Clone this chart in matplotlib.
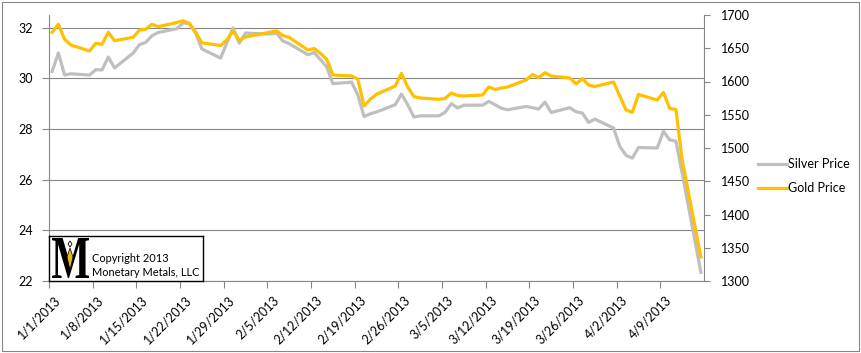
import datetime as dt
import matplotlib
matplotlib.use("Agg")
import matplotlib.pyplot as plt
import matplotlib.dates as mdates
from matplotlib.patches import Rectangle, PathPatch, Polygon
from matplotlib.textpath import TextPath
from matplotlib.font_manager import FontProperties
from matplotlib.transforms import Affine2D, ScaledTranslation

plt.rcParams['font.family'] = ['Lato', 'DejaVu Sans']

# trading days, 2013
dates = [
    "1/1", "1/2", "1/3", "1/4", "1/7", "1/8", "1/9", "1/10", "1/11", "1/14", "1/15",
    "1/16", "1/17", "1/18", "1/21", "1/22", "1/23", "1/24", "1/25", "1/28", "1/29",
    "1/30", "1/31",
    "2/1", "2/4", "2/5", "2/6", "2/7", "2/8", "2/11", "2/12", "2/13", "2/14", "2/15",
    "2/18", "2/19", "2/20", "2/21", "2/22", "2/25", "2/26", "2/27", "2/28",
    "3/1", "3/4", "3/5", "3/6", "3/7", "3/8", "3/11", "3/12", "3/13", "3/14", "3/15",
    "3/18", "3/19", "3/20", "3/21", "3/22", "3/25", "3/26", "3/27", "3/28", "3/29",
    "4/1", "4/2", "4/3", "4/4", "4/5", "4/8", "4/9", "4/10", "4/11", "4/12", "4/15",
]

silver = [
    30.27, 31.00, 30.13, 30.18, 30.13, 30.34, 30.33, 30.84, 30.41, 31.00, 31.33,
    31.42, 31.68, 31.81, 31.96, 32.19, 32.16, 31.79, 31.16, 30.80, 31.39,
    31.99, 31.39,
    31.79, 31.75, 31.76, 31.78, 31.47, 31.37, 30.93, 31.02, 30.74, 30.46, 29.79,
    29.85, 29.35, 28.49, 28.60, 28.67, 28.96, 29.38, 28.96, 28.47,
    28.52, 28.52, 28.66, 29.00, 28.83, 28.94, 28.94, 29.09, 28.96, 28.82, 28.76,
    28.89, 28.84, 28.79, 29.06, 28.65, 28.84, 28.68, 28.63, 28.26, 28.39,
    28.04, 27.31, 26.96, 26.85, 27.27, 27.25, 27.91, 27.57, 27.52, 26.26, 22.34,
]

gold = [
    1674.0, 1686.0, 1663.5, 1654.9, 1645.9, 1657.4, 1655.9, 1674.0, 1661.4, 1666.5, 1677.4,
    1678.5, 1686.0, 1682.4, 1688.7, 1691.4, 1687.5, 1674.4, 1658.3, 1654.1, 1662.4,
    1675.9, 1661.7,
    1666.9, 1672.5, 1674.4, 1675.9, 1669.2, 1666.2, 1647.4, 1649.6, 1642.4, 1633.8, 1609.8,
    1608.3, 1603.8, 1563.2, 1573.2, 1580.8, 1593.2, 1612.3, 1591.7, 1577.4,
    1575.2, 1573.2, 1574.4, 1582.7, 1578.9, 1578.2, 1579.7, 1591.7, 1588.0, 1590.2, 1591.7,
    1602.3, 1610.5, 1606.0, 1613.2, 1608.3, 1605.3, 1596.2, 1604.5, 1594.7, 1592.5,
    1599.2, 1578.2, 1557.1, 1553.7, 1580.5, 1572.2, 1583.5, 1559.4, 1557.9, 1482.0, 1336.1,
]

tick_labels = ["1/1/2013", "1/8/2013", "1/15/2013", "1/22/2013", "1/29/2013",
               "2/5/2013", "2/12/2013", "2/19/2013", "2/26/2013", "3/5/2013",
               "3/12/2013", "3/19/2013", "3/26/2013", "4/2/2013", "4/9/2013"]


def to_num(s):
    m, d, y = (int(v) for v in s.split("/"))
    return mdates.date2num(dt.date(y, m, d))


# excel date axis puts each point in the middle of its day
x = [to_num(s + "/2013") + 0.5 for s in dates]
ticks = [to_num(s) for s in tick_labels]

GRID = '#868686'
W, H = 862, 353
fig = plt.figure(figsize=(W / 100, H / 100), dpi=100)
fig.patches.append(Rectangle((2 / W, 2 / H), 857 / W, 349 / H, transform=fig.transFigure,
                             fill=False, edgecolor=GRID, lw=0.8))

ax = fig.add_axes([49 / W, 72 / H, 655 / W, 266 / H])
ax2 = ax.twinx()

ax.plot(x, silver, color='#BFBFBF', lw=2.3, label='Silver Price', solid_joinstyle='round')
ax2.plot(x, gold, color='#FFC000', lw=2.3, label='Gold Price', solid_joinstyle='round')

ax.set_xlim(to_num("1/1/2013"), to_num("4/16/2013"))
ax.set_ylim(22, 32.5)
ax.set_yticks([22, 24, 26, 28, 30, 32])
ax2.set_ylim(1300, 1700)
ax2.set_yticks(range(1300, 1701, 50))
ax.set_xticks(ticks)
ax.set_xticklabels(tick_labels, rotation=45, ha='right', va='top', rotation_mode='anchor')

ax.yaxis.grid(True, color=GRID, lw=0.8)
ax.set_axisbelow(True)

for s in ['top', 'right']:
    ax.spines[s].set_visible(False)
for s in ['top', 'left', 'bottom']:
    ax2.spines[s].set_visible(False)
for a in (ax, ax2):
    for sp in a.spines.values():
        sp.set_color(GRID)
        sp.set_linewidth(0.8)

FS = 9
ax.tick_params(axis='y', length=5, width=0.8, color=GRID, labelsize=FS, pad=6.5)
ax.tick_params(axis='x', length=5, width=0.8, color=GRID, labelsize=FS, pad=4)
ax2.tick_params(axis='y', length=4, width=0.8, color=GRID, labelsize=FS, pad=8)

shift = ScaledTranslation(5 / 100, 0, fig.dpi_scale_trans)
for lab in ax.get_xticklabels():
    lab.set_transform(lab.get_transform() + shift)

h1, l1 = ax.get_legend_handles_labels()
h2, l2 = ax2.get_legend_handles_labels()
ax2.legend(h1 + h2, l1 + l2, loc='center left', bbox_to_anchor=(758 / W, 1 - 176 / H),
           bbox_transform=fig.transFigure, frameon=False, fontsize=FS, borderpad=0,
           borderaxespad=0, handlelength=2.3, handletextpad=0.1, labelspacing=0.95)

# copyright box
box = fig.add_axes([49 / W, 72 / H, 154 / W, 45 / H], zorder=5)
box.set_xlim(0, 154)
box.set_ylim(0, 45)
box.set_xticks([])
box.set_yticks([])
for sp in box.spines.values():
    sp.set_color('black')
    sp.set_linewidth(1)

tp = TextPath((0, 0), "M", prop=FontProperties(family='Liberation Serif', weight='bold'))
ext = tp.get_extents()
tr = Affine2D().translate(-ext.x0, -ext.y0).scale(37 / ext.width, 40 / ext.height).translate(3, 3)
box.add_patch(PathPatch(tr.transform_path(tp), facecolor='black', edgecolor='none'))
box.add_patch(Polygon([(21, 33), (24, 24), (21, 11), (18, 24)], closed=True,
                      facecolor='#E8B820', edgecolor='black', lw=0.5))
box.add_patch(Polygon([(21, 40), (23, 37), (21, 34), (19, 37)], closed=True,
                      facecolor='white', edgecolor='black', lw=0.6))
box.text(43.5, 19, "Copyright 2013", fontsize=7.9, va='baseline')
box.text(43.5, 5, "Monetary Metals, LLC", fontsize=7.9, va='baseline')

fig.savefig("out.png", dpi=100)
